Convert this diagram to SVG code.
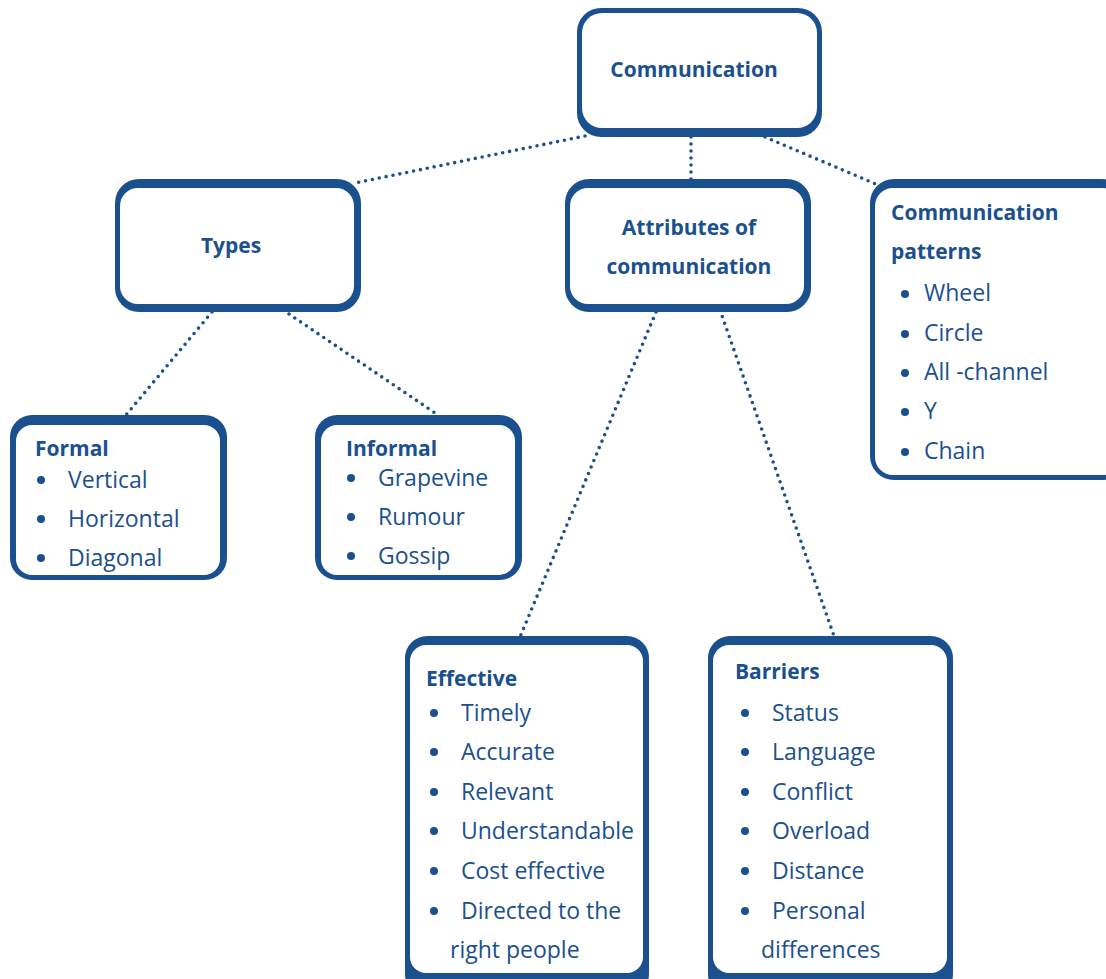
<svg xmlns="http://www.w3.org/2000/svg" width="1106" height="979" viewBox="0 0 1106 979">
  <style>
    .frame { fill: #1b508f; }
    .inner { fill: #ffffff; }
    .link { fill: none; stroke: #1b508f; stroke-width: 3.6; stroke-linecap: round; stroke-dasharray: 0 7; }
    text { font-family: "Open Sans", "Liberation Sans", sans-serif; fill: #1b508f; }
    .title { font-weight: 700; font-size: 21px; }
    .head { font-weight: 700; font-size: 21px; }
    .item { font-size: 23px; }
    .dot { fill: #1b508f; }
  </style>
  <rect width="1106" height="979" fill="#ffffff"/>

  <!-- connectors -->
  <g id="connectors">
    <line class="link" x1="585" y1="136" x2="355" y2="183"/>
    <line class="link" x1="691" y1="130" x2="691" y2="180"/>
    <line class="link" x1="765" y1="137" x2="878" y2="185"/>
    <line class="link" x1="212" y1="312" x2="126" y2="415"/>
    <line class="link" x1="289" y1="314" x2="438" y2="415"/>
    <line class="link" x1="656" y1="312" x2="520" y2="637"/>
    <line class="link" x1="720" y1="310" x2="834" y2="636"/>
  </g>

  <!-- root -->
  <g id="communication">
    <rect class="frame" x="577" y="8" width="245" height="129" rx="24"/>
    <rect class="inner" x="582" y="13" width="235" height="115" rx="20"/>
    <text class="title" x="694" y="77" text-anchor="middle">Communication</text>
  </g>

  <g id="types">
    <rect class="frame" x="115" y="179" width="246" height="133" rx="24"/>
    <rect class="inner" x="120" y="188" width="234" height="116" rx="18"/>
    <text class="title" x="231" y="253" text-anchor="middle">Types</text>
  </g>

  <g id="attributes">
    <rect class="frame" x="565" y="179" width="246" height="133" rx="24"/>
    <rect class="inner" x="570" y="188" width="234" height="116" rx="18"/>
    <text class="title" x="689" y="235" text-anchor="middle">Attributes of</text>
    <text class="title" x="689" y="274" text-anchor="middle">communication</text>
  </g>

  <g id="patterns">
    <rect class="frame" x="870" y="179" width="256" height="301" rx="24"/>
    <rect class="inner" x="875" y="188" width="246" height="287" rx="18"/>
    <text class="head" x="891" y="220">Communication</text>
    <text class="head" x="891" y="259">patterns</text>
    <circle class="dot" cx="905" cy="294" r="4"/>
    <text class="item" x="924" y="301">Wheel</text>
    <circle class="dot" cx="905" cy="334" r="4"/>
    <text class="item" x="924" y="341">Circle</text>
    <circle class="dot" cx="905" cy="373" r="4"/>
    <text class="item" x="924" y="380">All -channel</text>
    <circle class="dot" cx="905" cy="412" r="4"/>
    <text class="item" x="924" y="419">Y</text>
    <circle class="dot" cx="905" cy="452" r="4"/>
    <text class="item" x="924" y="459">Chain</text>
  </g>

  <g id="formal">
    <rect class="frame" x="10" y="415" width="217" height="165" rx="22"/>
    <rect class="inner" x="16" y="425" width="204" height="150" rx="16"/>
    <text class="head" x="35" y="456">Formal</text>
    <circle class="dot" cx="41" cy="480" r="4"/>
    <text class="item" x="68" y="488">Vertical</text>
    <circle class="dot" cx="41" cy="519" r="4"/>
    <text class="item" x="68" y="527">Horizontal</text>
    <circle class="dot" cx="41" cy="558" r="4"/>
    <text class="item" x="68" y="566">Diagonal</text>
  </g>

  <g id="informal">
    <rect class="frame" x="315" y="415" width="207" height="165" rx="22"/>
    <rect class="inner" x="321" y="425" width="194" height="150" rx="16"/>
    <text class="head" x="346" y="456">Informal</text>
    <circle class="dot" cx="351" cy="478" r="4"/>
    <text class="item" x="378" y="486">Grapevine</text>
    <circle class="dot" cx="351" cy="517" r="4"/>
    <text class="item" x="378" y="525">Rumour</text>
    <circle class="dot" cx="351" cy="556" r="4"/>
    <text class="item" x="378" y="564">Gossip</text>
  </g>

  <g id="effective">
    <rect class="frame" x="405" y="636" width="244" height="360" rx="22"/>
    <rect class="inner" x="410" y="645" width="233" height="328" rx="16"/>
    <text class="head" x="426" y="686">Effective</text>
    <circle class="dot" cx="434" cy="713" r="4"/>
    <text class="item" x="461" y="721">Timely</text>
    <circle class="dot" cx="434" cy="752" r="4"/>
    <text class="item" x="461" y="760">Accurate</text>
    <circle class="dot" cx="434" cy="792" r="4"/>
    <text class="item" x="461" y="800">Relevant</text>
    <circle class="dot" cx="434" cy="831" r="4"/>
    <text class="item" x="461" y="839">Understandable</text>
    <circle class="dot" cx="434" cy="871" r="4"/>
    <text class="item" x="461" y="879">Cost effective</text>
    <circle class="dot" cx="434" cy="911" r="4"/>
    <text class="item" x="461" y="919">Directed to the</text>
    <text class="item" x="450" y="958">right people</text>
  </g>

  <g id="barriers">
    <rect class="frame" x="708" y="636" width="245" height="360" rx="22"/>
    <rect class="inner" x="713" y="645" width="234" height="328" rx="16"/>
    <text class="head" x="735" y="679">Barriers</text>
    <circle class="dot" cx="745" cy="713" r="4"/>
    <text class="item" x="772" y="721">Status</text>
    <circle class="dot" cx="745" cy="752" r="4"/>
    <text class="item" x="772" y="760">Language</text>
    <circle class="dot" cx="745" cy="792" r="4"/>
    <text class="item" x="772" y="800">Conflict</text>
    <circle class="dot" cx="745" cy="831" r="4"/>
    <text class="item" x="772" y="839">Overload</text>
    <circle class="dot" cx="745" cy="871" r="4"/>
    <text class="item" x="772" y="879">Distance</text>
    <circle class="dot" cx="745" cy="911" r="4"/>
    <text class="item" x="772" y="919">Personal</text>
    <text class="item" x="761" y="958">differences</text>
  </g>
</svg>
